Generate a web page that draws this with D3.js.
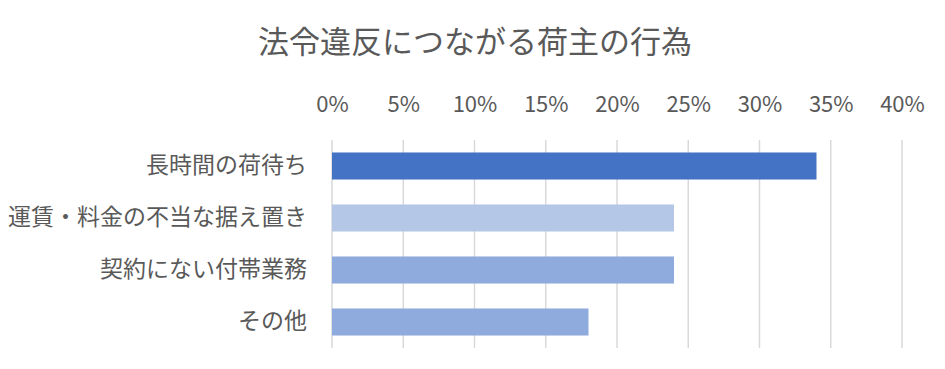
<!DOCTYPE html>
<html><head><meta charset="utf-8">
<script src="https://cdn.jsdelivr.net/npm/d3@7"></script>
<style>body{margin:0;background:#fff;} svg{display:block;}</style>
</head><body>
<svg id="chart" width="945" height="369"></svg>
<script>
const title = "法令違反につながる荷主の行為";
const categories = ["長時間の荷待ち", "運賃・料金の不当な据え置き", "契約にない付帯業務", "その他"];
const values = [0.34, 0.24, 0.24, 0.18];
const barColors = ["#4472c4", "#b4c7e7", "#8faadc", "#8faadc"];
const tickValues = [0, 0.05, 0.10, 0.15, 0.20, 0.25, 0.30, 0.35, 0.40];

const svg = d3.select("#chart");
const font = "'Noto Sans CJK JP', 'Noto Sans', sans-serif";
const margin = {left: 332, right: 43, top: 140, bottom: 21};
const W = 945, H = 369;

const x = d3.scaleLinear().domain([0, 0.40]).range([margin.left, W - margin.right]);
const y = d3.scaleBand().domain(categories).range([margin.top, H - margin.bottom]).paddingInner(0.48).paddingOuter(0.24);

svg.append("text").attr("x", 475).attr("y", 53).attr("text-anchor", "middle")
  .attr("font-family", font).attr("font-size", 31).attr("fill", "#595959").text(title);

// gridlines
svg.append("g").selectAll("line").data(tickValues).join("line")
  .attr("x1", d => x(d)).attr("x2", d => x(d))
  .attr("y1", margin.top).attr("y2", H - margin.bottom)
  .attr("stroke", "#d9d9d9").attr("stroke-width", 1.5);

// top axis labels
const axis = d3.axisTop(x).tickValues(tickValues).tickFormat(d3.format(".0%")).tickSize(0).tickPadding(0);
const ga = svg.append("g").attr("transform", `translate(0,112)`).call(axis);
ga.select(".domain").remove();
ga.selectAll("text").attr("font-family", font).attr("font-size", 22).attr("fill", "#595959");

// bars
svg.append("g").selectAll("rect").data(values).join("rect")
  .attr("x", x(0)).attr("y", (d, i) => y(categories[i]))
  .attr("width", d => x(d) - x(0)).attr("height", y.bandwidth())
  .attr("fill", (d, i) => barColors[i]);

// category labels
const gy = svg.append("g").attr("transform", `translate(${margin.left - 25},0)`)
  .call(d3.axisLeft(y).tickSize(0).tickPadding(0));
gy.select(".domain").remove();
gy.selectAll("text").attr("font-family", font).attr("font-size", 23).attr("fill", "#595959");
</script>
</body></html>
